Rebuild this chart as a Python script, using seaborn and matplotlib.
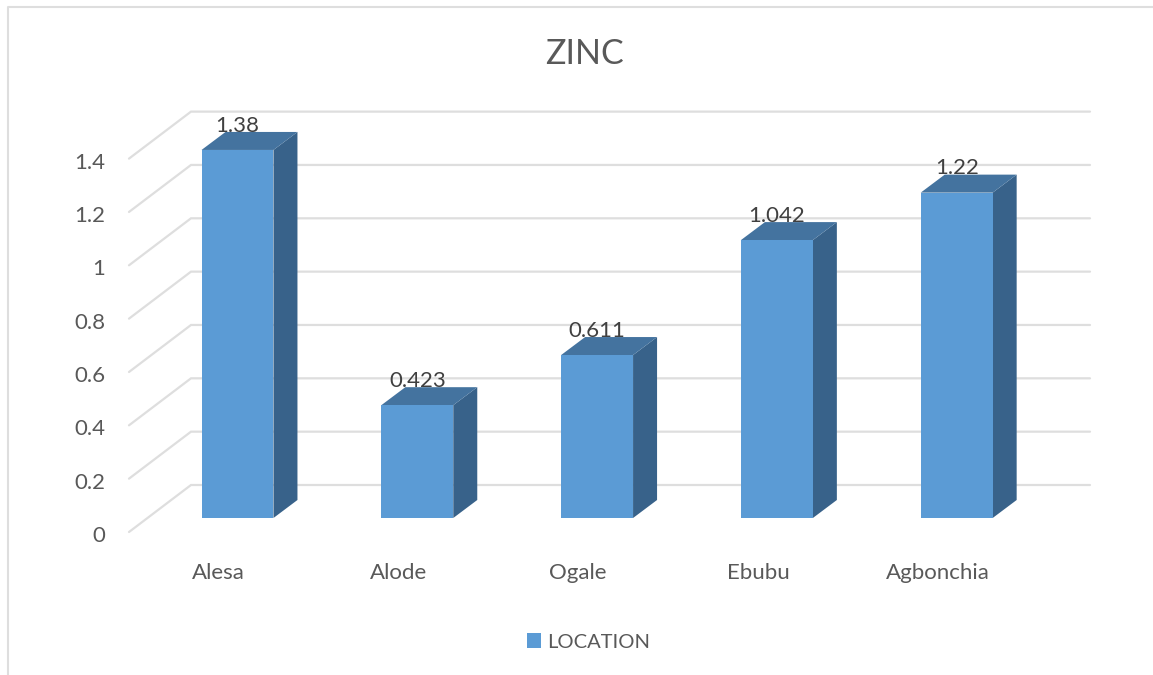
import matplotlib
matplotlib.use('Agg')
import matplotlib.pyplot as plt
from matplotlib.lines import Line2D
from matplotlib.patches import Polygon
from matplotlib.transforms import ScaledTranslation
import pandas as pd
import seaborn as sns

# data
locations = ['Alesa', 'Alode', 'Ogale', 'Ebubu', 'Agbonchia']
zinc = [1.38, 0.423, 0.611, 1.042, 1.22]
value_labels = ['1.38', '0.423', '0.611', '1.042', '1.22']
series_name = 'LOCATION'
y_ticks = [0, 0.2, 0.4, 0.6, 0.8, 1.0, 1.2, 1.4]
y_tick_labels = ['0', '0.2', '0.4', '0.6', '0.8', '1', '1.2', '1.4']

# pixel layout of the fake 3d box
W, H = 1153, 675
PX_PER_CAT = 179.8
PX_PER_VAL = 266.7
AX_LEFT, AX_RIGHT = 129, 1090
AX_TOP, AX_BOTTOM = 112, 532
BASE_Y = 518        # where value 0 sits on the bars' front face
CENTER0 = 237.5     # centre of first bar
BACK_X = 191        # back wall starts here
BACK_ZERO_Y = 485   # value 0 on the back wall

FRONT = '#5B9BD5'
SIDE = '#38628A'
TOP = '#44739F'
GRID = '#DEDEDE'
TEXT = '#595959'
LABEL = '#404040'

sns.set_style('white')
plt.rcParams['font.family'] = ['Lato', 'DejaVu Sans']

df = pd.DataFrame({'location': locations, 'zinc': zinc, 'series': series_name})

fig = plt.figure(figsize=(W / 100, H / 100), dpi=100)
ax = fig.add_axes([AX_LEFT / W, 1 - AX_BOTTOM / H,
                   (AX_RIGHT - AX_LEFT) / W, (AX_BOTTOM - AX_TOP) / H])
ax.patch.set_alpha(0)

sns.barplot(data=df, x='location', y='zinc', hue='series', palette=[FRONT],
            width=0.4, dodge=False, saturation=1, linewidth=0, edgecolor='none',
            ax=ax, zorder=3)

x_left = (AX_LEFT - CENTER0) / PX_PER_CAT
x_right = (AX_RIGHT - CENTER0) / PX_PER_CAT
ax.set_xlim(x_left, x_right)
ax.set_ylim(-(AX_BOTTOM - BASE_Y) / PX_PER_VAL, (BASE_Y - AX_TOP) / PX_PER_VAL)

# walls: diagonal on the left then flat along the back
x_back = (BACK_X - CENTER0) / PX_PER_CAT
front_dy = -(AX_BOTTOM - BASE_Y) / PX_PER_VAL
back_dy = (BASE_Y - BACK_ZERO_Y) / PX_PER_VAL
for v in y_ticks:
    ax.plot([x_left, x_back, x_right], [v + front_dy, v + back_dy, v + back_dy],
            color=GRID, lw=1.6, zorder=1, clip_on=False, solid_joinstyle='miter')

# bar depth
depth_x = 24 / PX_PER_CAT
depth_y = 18 / PX_PER_VAL
for bar, txt in zip(ax.patches, value_labels):
    x0 = bar.get_x()
    x1 = x0 + bar.get_width()
    h = bar.get_height()
    ax.add_patch(Polygon([(x1, 0), (x1 + depth_x, depth_y), (x1 + depth_x, h + depth_y), (x1, h)],
                         closed=True, fc=SIDE, ec='none', zorder=2.5, clip_on=False))
    ax.add_patch(Polygon([(x0, h), (x0 + depth_x, h + depth_y), (x1 + depth_x, h + depth_y), (x1, h)],
                         closed=True, fc=TOP, ec='none', zorder=2.5, clip_on=False))
    ax.annotate(txt, (x0 + bar.get_width() / 2, h), xytext=(0, 17.5), textcoords='offset points',
                ha='center', va='center', fontsize=16, color=LABEL, zorder=5,
                annotation_clip=False)

# axes text
sns.despine(ax=ax, left=True, bottom=True)
ax.set_xlabel('')
ax.set_ylabel('')
ax.set_yticks(y_ticks)
ax.set_yticklabels(y_tick_labels)
ax.tick_params(axis='both', length=0, labelsize=16, labelcolor=TEXT)
ax.tick_params(axis='y', pad=17)
ax.tick_params(axis='x', pad=22)

# labels sit lower / further left than the values they belong to
shift_y = ScaledTranslation(0, (front_dy * PX_PER_VAL - 2) / 100, fig.dpi_scale_trans)
for t in ax.get_yticklabels():
    t.set_transform(t.get_transform() + shift_y)
shift_x = ScaledTranslation(-19 / 100, 0, fig.dpi_scale_trans)
for t in ax.get_xticklabels():
    t.set_transform(t.get_transform() + shift_x)

# legend
handles, labels = ax.get_legend_handles_labels()
ax.get_legend().remove()
fig.legend(handles, labels, loc='center', bbox_to_anchor=(588.5 / W, 1 - 642 / H),
           frameon=False, fontsize=14.5, labelcolor=TEXT, handlelength=0.7,
           handleheight=0.7, handletextpad=0.3)

fig.text(585 / W, 1 - 54 / H, 'ZINC', ha='center', va='center', fontsize=24.5, color=TEXT)

# chart area border, only top and left show
fig.add_artist(Line2D([8 / W, 8 / W, 1], [0, 1 - 7 / H, 1 - 7 / H], color=GRID, lw=1.5))

fig.savefig('out.png', dpi=100)
